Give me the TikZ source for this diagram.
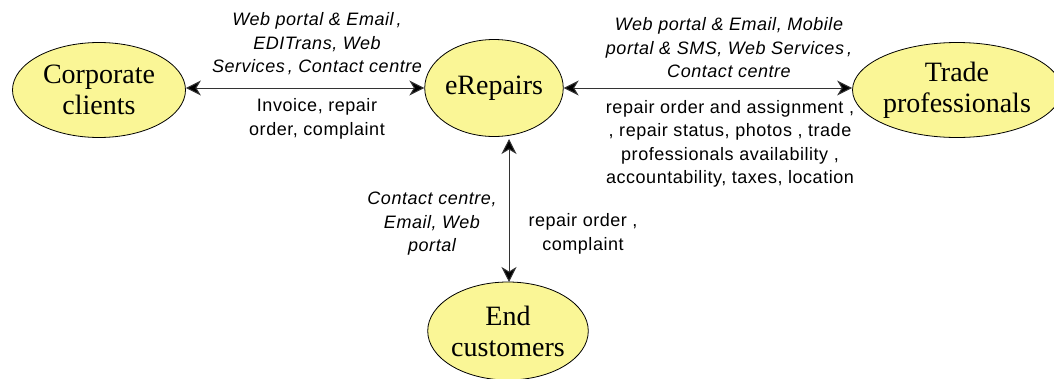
\documentclass[tikz,border=0pt]{standalone}
\usepackage{fontspec}
\setmainfont{Liberation Serif}
\setsansfont{Liberation Sans}
\newfontfamily\lblfont[LetterSpace=3]{Liberation Sans}
\usetikzlibrary{shapes.geometric,arrows.meta}
\definecolor{nodefill}{RGB}{250,246,150}
\tikzset{
  ent/.style={ellipse, draw=black, line width=0.8pt, fill=nodefill, inner sep=0pt,
    font=\fontsize{28}{31}\selectfont, align=center},
  flow/.style={draw=black!80, line width=1pt,
    {Stealth[length=15pt,width=15pt,inset=4.5pt,fill=black]}-{Stealth[length=15pt,width=15pt,inset=4.5pt,fill=black]}},
  chan/.style={font=\lblfont\itshape\fontsize{18}{23.5}\selectfont, align=center, inner sep=0pt},
  data/.style={font=\lblfont\fontsize{18}{23.5}\selectfont, align=center, inner sep=0pt}
}
\begin{document}
\begin{tikzpicture}[x=1pt,y=-1pt]
\useasboundingbox (0,0) rectangle (1054,378);
\begin{scope}
\clip (0,0) rectangle (1054,378);
\node[ent, minimum width=173pt, minimum height=95pt] (corp) at (99,90) {Corporate\\clients};
\node[ent, minimum width=130pt, minimum height=97pt] (erep) at (494,88) {eRepairs};
\node[ent, minimum width=174pt, minimum height=95pt] (trade) at (957,90) {Trade\\professionals};
\node[ent, minimum width=157pt, minimum height=98pt] (endc) at (508,331) {End\\customers};
\end{scope}
\coordinate (vtop) at (509,139);
\coordinate (vbot) at (509,282);
\draw[flow] (corp.east |- 0,88) -- (erep.west |- 0,88);
\draw[flow] (erep.east |- 0,88) -- (trade.west |- 0,88);
\draw[flow] (vtop) -- (vbot);
\node[chan] (c1) at (317,44) {Web portal \& Email\,,\\EDITrans, Web\\Services\,, Contact centre};
\node[data] (d1) at (317,119) {Invoice, repair\\order, complaint};
\node[chan] (c2) at (729,48) {Web portal \& Email, Mobile\\portal \& SMS, Web Services\,,\\Contact centre};
\node[data] (d2) at (730,144) {repair order and assignment ,\\, repair status, photos , trade\\professionals availability ,\\accountability, taxes, location};
\node[chan] (c3) at (432,224) {Contact centre,\\Email, Web\\portal};
\node[data] (d3) at (583,234) {repair order ,\\complaint};
\end{tikzpicture}
\end{document}
